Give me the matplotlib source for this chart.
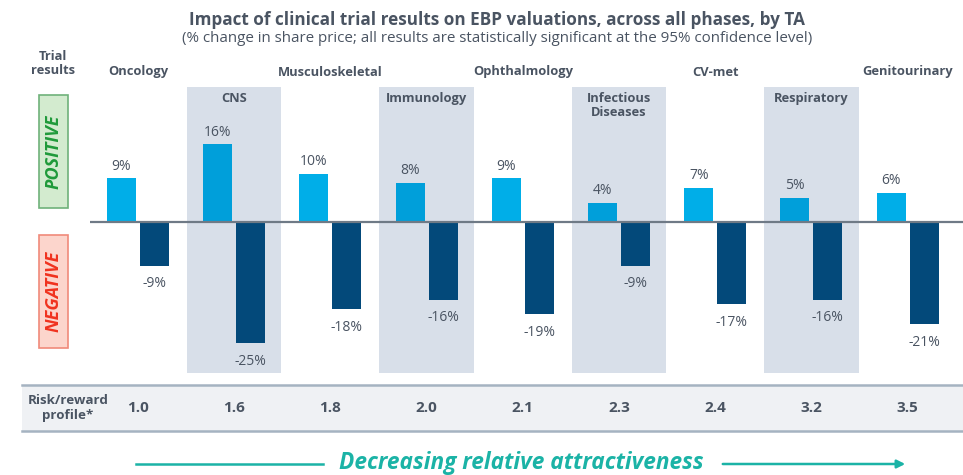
import matplotlib
matplotlib.use("Agg")
import matplotlib.pyplot as plt
import numpy as np

plt.rcParams["font.family"] = ["Open Sans", "DejaVu Sans"]

# therapy areas, ordered by risk/reward profile
areas = ["Oncology", "CNS", "Musculoskeletal", "Immunology", "Ophthalmology",
         "Infectious\nDiseases", "CV-met", "Respiratory", "Genitourinary"]
positive = [9, 16, 10, 8, 9, 4, 7, 5, 6]
negative = [-9, -25, -18, -16, -19, -9, -17, -16, -21]
risk_reward = ["1.0", "1.6", "1.8", "2.0", "2.1", "2.3", "2.4", "3.2", "3.5"]

txt_col = "#4a5462"
light_blue = "#00aee8"
light_blue_sh = "#009fda"
dark_blue = "#03497a"
shade = "#d8dfe9"
teal = "#1bb3a6"

W, H = 963, 475
fig = plt.figure(figsize=(W / 100, H / 100), dpi=100)

def fx(px):
    return px / W

def fy(py):
    return 1 - py / H

# bar axes: baseline at y=222px, 4.85 px per percentage point
x0, x1, y_top, y_bot = 90, 963, 87, 373
ax = fig.add_axes([fx(x0), fy(y_bot), fx(x1 - x0), (y_bot - y_top) / H])
cx0, step, ppp, base = 138, 96.2, 4.85, 222
ax.set_xlim((x0 - cx0) / step, (x1 - cx0) / step)
ax.set_ylim(-(y_bot - base) / ppp, (base - y_top) / ppp)
ax.axis("off")

x = np.arange(len(areas))
shaded = [i % 2 == 1 for i in x]
for i in x:
    if shaded[i]:
        ax.axvspan(i - 0.49, i + 0.49, color=shade, lw=0, zorder=0)

bw = 29 / step
off = (29 / 2 + 2) / step
pos_cols = [light_blue_sh if s else light_blue for s in shaded]
ax.bar(x - off, positive, width=bw, color=pos_cols, zorder=2)
ax.bar(x + off, negative, width=bw, color=dark_blue, zorder=2)
ax.axhline(0, color="#6f7a86", lw=1.6, zorder=3)

for i in x:
    ax.text(i - off, positive[i] + 1.0, f"{positive[i]}%", ha="center", va="bottom",
            fontsize=10, color=txt_col)
    ax.text(i + off, negative[i] - 2.2, f"{negative[i]}%", ha="center", va="top",
            fontsize=10, color=txt_col)

# category names: above the plot for plain columns, inside the band for shaded ones
for i in x:
    cxp = cx0 + step * i
    if shaded[i]:
        fig.text(fx(cxp), fy(92), areas[i], ha="center", va="top", fontsize=9.3,
                 fontweight="bold", color=txt_col, linespacing=1.15)
    else:
        fig.text(fx(cxp), fy(72), areas[i], ha="center", va="center", fontsize=9.3,
                 fontweight="bold", color=txt_col)

# title
fig.text(fx(497), fy(20), "Impact of clinical trial results on EBP valuations, across all phases, by TA",
         ha="center", va="center", fontsize=12.3, fontweight="bold", color=txt_col)
fig.text(fx(497), fy(39), "(% change in share price; all results are statistically significant at the 95% confidence level)",
         ha="center", va="center", fontsize=10.9, color=txt_col)

fig.text(fx(53), fy(64), "Trial\nresults", ha="center", va="center", fontsize=9.3,
         fontweight="bold", color=txt_col, linespacing=1.1)

# positive / negative tags
for (ytop, ybot, fc, ec, tc, label) in [(95, 208, "#d3ebcf", "#6fb27a", "#1f9a3a", "POSITIVE"),
                                        (235, 348, "#fcd5cc", "#f08a7a", "#f0321e", "NEGATIVE")]:
    fig.patches.append(plt.Rectangle((fx(39), fy(ybot)), fx(29), (ybot - ytop) / H,
                                     transform=fig.transFigure, facecolor=fc,
                                     edgecolor=ec, lw=1.2))
    fig.text(fx(54), fy((ytop + ybot) / 2), label, ha="center", va="center", rotation=90,
             fontsize=13, fontweight="bold", fontstyle="italic", color=tc)

# risk/reward band
fig.patches.append(plt.Rectangle((fx(22), fy(431)), 1 - fx(22), (431 - 385) / H,
                                 transform=fig.transFigure, facecolor="#eff1f4", lw=0))
for yy in (385, 431):
    fig.lines.append(plt.Line2D([fx(22), 1], [fy(yy), fy(yy)], transform=fig.transFigure,
                                color="#a5b3c1", lw=1.8))
fig.text(fx(68), fy(408), "Risk/reward\nprofile*", ha="center", va="center", fontsize=9.6,
         fontweight="bold", color=txt_col, linespacing=1.1)
for i in x:
    fig.text(fx(cx0 + step * i), fy(408), risk_reward[i], ha="center", va="center",
             fontsize=11, fontweight="bold", color=txt_col)

# bottom arrow
fig.lines.append(plt.Line2D([fx(136), fx(323)], [fy(464), fy(464)], transform=fig.transFigure,
                            color=teal, lw=1.8))
fig.text(fx(521), fy(463), "Decreasing relative attractiveness", ha="center", va="center",
         fontsize=16.3, fontweight="bold", fontstyle="italic", color=teal)
fig.patches.append(matplotlib.patches.FancyArrowPatch((fx(720), fy(464)), (fx(908), fy(464)),
                                                      transform=fig.transFigure, arrowstyle="-|>",
                                                      mutation_scale=12, color=teal, lw=1.8))

fig.savefig("out.png", dpi=100)
